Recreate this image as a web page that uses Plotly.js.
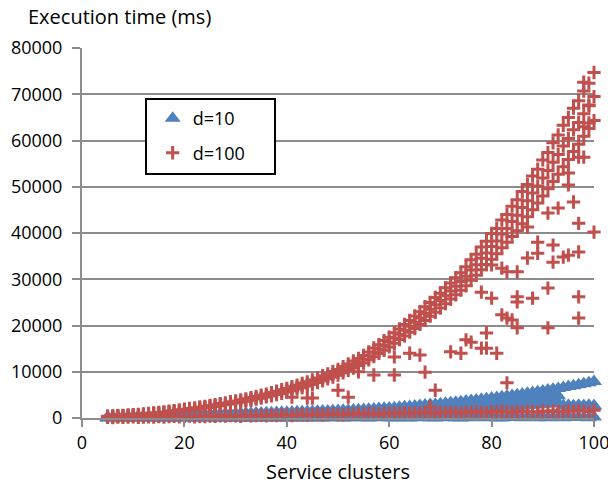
<!DOCTYPE html>
<html>
<head>
<meta charset="utf-8">
<script src="https://cdn.plot.ly/plotly-3.0.1.min.js"></script>
<style>html,body{margin:0;padding:0;background:#fff}#chart{width:608px;height:488px}</style>
</head>
<body>
<div id="chart"></div>
<script>
// Service clusters (x values)
const clusters = [5,6,7,8,9,10,11,12,13,14,15,16,17,18,19,20,21,22,23,24,25,26,27,28,29,30,31,32,33,34,35,36,37,38,39,40,41,42,43,44,45,46,47,48,49,50,51,52,53,54,55,56,57,58,59,60,61,62,63,64,65,66,67,68,69,70,71,72,73,74,75,76,77,78,79,80,81,82,83,84,85,86,87,88,89,90,91,92,93,94,95,96,97,98,99,100];

// d=100 : three repeated runs (main curve), low row and scattered outliers
const d100RunA = [400,440,520,570,650,700,800,870,990,1080,
  1210,1320,1490,1590,1770,1900,2060,2210,2380,2530,
  2720,2880,3110,3270,3510,3700,3940,4150,4420,4650,
  4920,5180,5500,5790,6120,6400,6780,7100,7500,7830,
  8240,8650,9140,9560,10080,10500,11120,11680,12330,12870,
  13540,14280,15130,15860,16740,17480,18430,19270,20240,21080,
  22050,22960,24050,24970,26060,26980,28150,29170,30350,31380,
  32700,34200,35400,37000,38200,39900,41000,42800,44000,45800,
  47200,49000,50500,52300,53800,55800,57400,59500,61200,63300,
  65000,67000,68600,70700,72400,74700];
const d100RunB = [250,310,350,420,460,530,580,690,750,860,
  930,1070,1170,1310,1420,1570,1690,1860,1990,2160,
  2290,2490,2650,2850,3020,3230,3410,3640,3840,4090,
  4290,4550,4780,5070,5320,5610,5910,6250,6550,6910,
  7240,7650,8030,8460,8840,9260,9770,10310,10810,11360,
  11890,12590,13260,13970,14640,15360,16140,16960,17740,18560,
  19340,20240,21100,22010,22870,23770,24720,25710,26650,27640,
  28590,29760,30890,32060,33190,34310,35540,36810,37990,39260,
  40490,42010,43490,45010,46490,48010,49590,51110,52690,54310,
  55890,57610,59190,60910,62590,64310];
const d100RunC = [320,380,430,500,550,610,690,780,870,970,
  1070,1200,1330,1450,1600,1730,1880,2040,2180,2350,
  2500,2690,2880,3060,3270,3460,3680,3900,4130,4370,
  4610,4860,5140,5430,5720,6010,6350,6680,7030,7370,
  7740,8150,8590,9010,9460,9880,10450,11000,11570,12120,
  12720,13440,14200,14910,15690,16420,17290,18110,18990,19820,
  20700,21600,22580,23490,24470,25380,26440,27440,28500,29510,
  30640,31980,33150,34530,35700,37100,38270,39800,41000,42500,
  43850,45500,47000,48650,50150,51900,53500,55300,56950,58800,
  60450,62300,63900,65800,67500,69500];
const d100Low = [150,90,210,130,180,240,120,200,260,170,
  310,220,280,350,240,330,390,270,360,300,
  420,350,470,390,510,440,380,560,470,520,
  600,480,650,540,700,590,520,680,760,610,
  720,830,650,790,880,740,690,900,820,960,
  870,1000,930,810,1050,960,1100,990,1150,1030,
  1180,1060,1220,1110,970,1250,1140,1290,1180,1040,
  1310,1200,1350,1240,1120,1380,1260,1420,1300,1190,
  1450,1330,1480,1370,1260,1510,1400,1550,1430,1320,
  1580,1460,1620,1500,1380,1650];
const d100OutX = [96,91,93,97,100,87,89,92,97,95,92,89,87,85,83,82,80,91,97,88,85,85,80,78,97,82,83,84,85,91,79,75,79,81,74,72,67,66,64,61,61,69,83,68,57,50,52,54,41,44,45,97,98,99,98,95,95,99,98,94,76,78];
const d100OutY = [46700,44300,45400,42100,40200,41300,38000,37400,35900,35200,33700,35600,34600,31600,31600,32400,33100,28100,26200,25900,26200,25100,25900,27200,21600,22300,21600,21200,19500,19500,18400,16900,15100,14000,14000,14300,9900,13600,14000,13200,9300,6000,7600,2400,9300,6000,4500,10000,4500,4300,4300,56400,56400,63800,63000,53000,50400,67700,72600,34800,16400,15100];

// d=10 : top row, upper-middle row, middle row and base row of triangles
const d10Top = [150,200,230,280,300,350,370,420,440,480,
  500,550,570,610,640,680,700,740,760,800,
  820,850,880,900,940,960,990,1010,1050,1080,
  1100,1140,1160,1200,1230,1260,1290,1330,1350,1400,
  1420,1460,1500,1530,1570,1610,1650,1690,1740,1780,
  1850,1910,1970,2030,2100,2170,2240,2320,2420,2510,
  2600,2700,2800,2900,3000,3100,3200,3300,3420,3540,
  3660,3780,3900,4030,4160,4300,4440,4580,4730,4880,
  5030,5190,5350,5510,5680,5850,6030,6210,6400,6590,
  6790,6990,7200,7410,7630,7900];
const d10Upper = [100,140,170,200,220,260,270,310,330,360,
  370,410,430,450,480,510,520,550,570,600,
  610,640,660,670,700,720,740,760,780,810,
  820,850,870,900,920,940,970,990,1010,1050,
  1060,1090,1120,1150,1170,1200,1240,1270,1300,1330,
  1380,1430,1470,1520,1570,1620,1680,1740,1810,1880,
  1940,2020,2090,2160,2240,2310,2390,2470,2550,2640,
  2730,2820,2910,3010,3110,3220,3320,3430,3540,3660,
  3770,3900,4020,4140,4270,4400,4540,4680,4820,2640,
  2700,2620,2680,2650,2700,2640];
const d10Mid = [60,90,110,130,150,170,180,200,220,240,
  250,270,290,300,320,340,350,370,380,400,
  410,430,440,450,470,480,500,510,520,540,
  550,570,580,600,610,630,650,660,680,700,
  710,730,750,770,780,800,830,850,870,890,
  920,950,980,1010,1050,1080,1120,1160,1200,1250,
  1290,1340,1390,1430,1480,1530,1580,1640,1690,1750,
  1810,1870,1930,2000,2070,2140,2210,2290,2360,2440,
  2520,2610,2700,2780,2870,2960,3050,3150,3250,2600,
  2650,2600,2700,2620,2680,2600];
const d10Base = [0,10,0,20,0,10,0,30,0,20,
  10,0,40,0,20,0,30,10,0,40,
  0,30,0,50,10,0,40,20,0,60,
  20,0,50,10,70,0,40,20,60,0,
  50,80,0,60,30,90,10,70,40,100,
  60,0,90,30,110,50,20,120,60,0,
  100,40,130,70,0,110,50,140,80,20,
  130,60,150,90,30,160,70,20,140,100,
  180,60,150,110,40,190,80,170,120,50,
  200,90,160,130,60,210];

const RED = '#c0504d', BLUE = '#4f81bd', GRID = '#8c8c8c';
const FONT = 'Open Sans, DejaVu Sans, sans-serif';

const rep = (a, n) => { let r = []; for (let i = 0; i < n; i++) r = r.concat(a); return r; };

const traceD10 = {
  type: 'scatter', mode: 'markers', name: 'd=10', legendgroup: 'a', cliponaxis: false,
  x: rep(clusters, 4),
  y: [].concat(d10Base, d10Mid, d10Upper, d10Top),
  marker: {symbol: 'triangle-up', size: 14, color: BLUE, line: {width: 0}},
  hoverinfo: 'x+y'
};
const traceD100 = {
  type: 'scatter', mode: 'markers', name: 'd=100', legendgroup: 'b', cliponaxis: false,
  x: [].concat(clusters, clusters, clusters, clusters, d100OutX),
  y: [].concat(d100Low, d100RunB, d100RunC, d100RunA, d100OutY),
  marker: {symbol: 'cross-thin', size: 9.5, color: RED, line: {width: 3, color: RED}},
  hoverinfo: 'x+y'
};

const layout = {
  width: 608, height: 488,
  margin: {l: 82, r: 14, t: 48, b: 70, pad: 0},
  paper_bgcolor: '#ffffff', plot_bgcolor: '#ffffff',
  font: {family: FONT, size: 18, color: '#000000'},
  title: {text: 'Execution time (ms)', x: 28/608, xanchor: 'left', xref: 'container',
          y: 1 - 17/488, yanchor: 'middle', yref: 'container',
          font: {family: FONT, size: 20, color: '#000000'}},
  xaxis: {range: [0, 100], dtick: 20, tick0: 0, showgrid: false, zeroline: false,
          showline: true, linecolor: GRID, linewidth: 2,
          ticks: 'outside', ticklen: 7, tickwidth: 2, tickcolor: GRID,
          ticklabeloverflow: 'allow',
          tickfont: {family: FONT, size: 18, color: '#000'},
          title: {text: 'Service clusters', standoff: 12, font: {family: FONT, size: 20, color: '#000'}}},
  yaxis: {range: [0, 80000], dtick: 10000, tick0: 0, tickformat: 'd',
          showgrid: true, gridcolor: GRID, gridwidth: 2, zeroline: false,
          showline: true, linecolor: GRID, linewidth: 2,
          ticks: 'outside', ticklen: 8, tickwidth: 2, tickcolor: GRID,
          ticklabelstandoff: 6,
          tickfont: {family: FONT, size: 18, color: '#000'}},
  showlegend: true,
  legend: {x: 0.138, y: 0.859, xanchor: 'left', yanchor: 'top', xref: 'paper', yref: 'paper',
           bgcolor: 'rgba(0,0,0,0)', borderwidth: 0, traceorder: 'grouped', tracegroupgap: 8,
           font: {family: FONT, size: 18, color: '#000'}},
  shapes: [{type: 'rect', xref: 'paper', yref: 'paper',
            x0: (146-82)/512, x1: (275-82)/512, y0: (418-174)/370, y1: (418-99)/370,
            line: {color: '#000000', width: 2}, fillcolor: '#ffffff', layer: 'above'}]
};

Plotly.newPlot('chart', [traceD10, traceD100], layout, {displayModeBar: false, staticPlot: true});
</script>
</body>
</html>
